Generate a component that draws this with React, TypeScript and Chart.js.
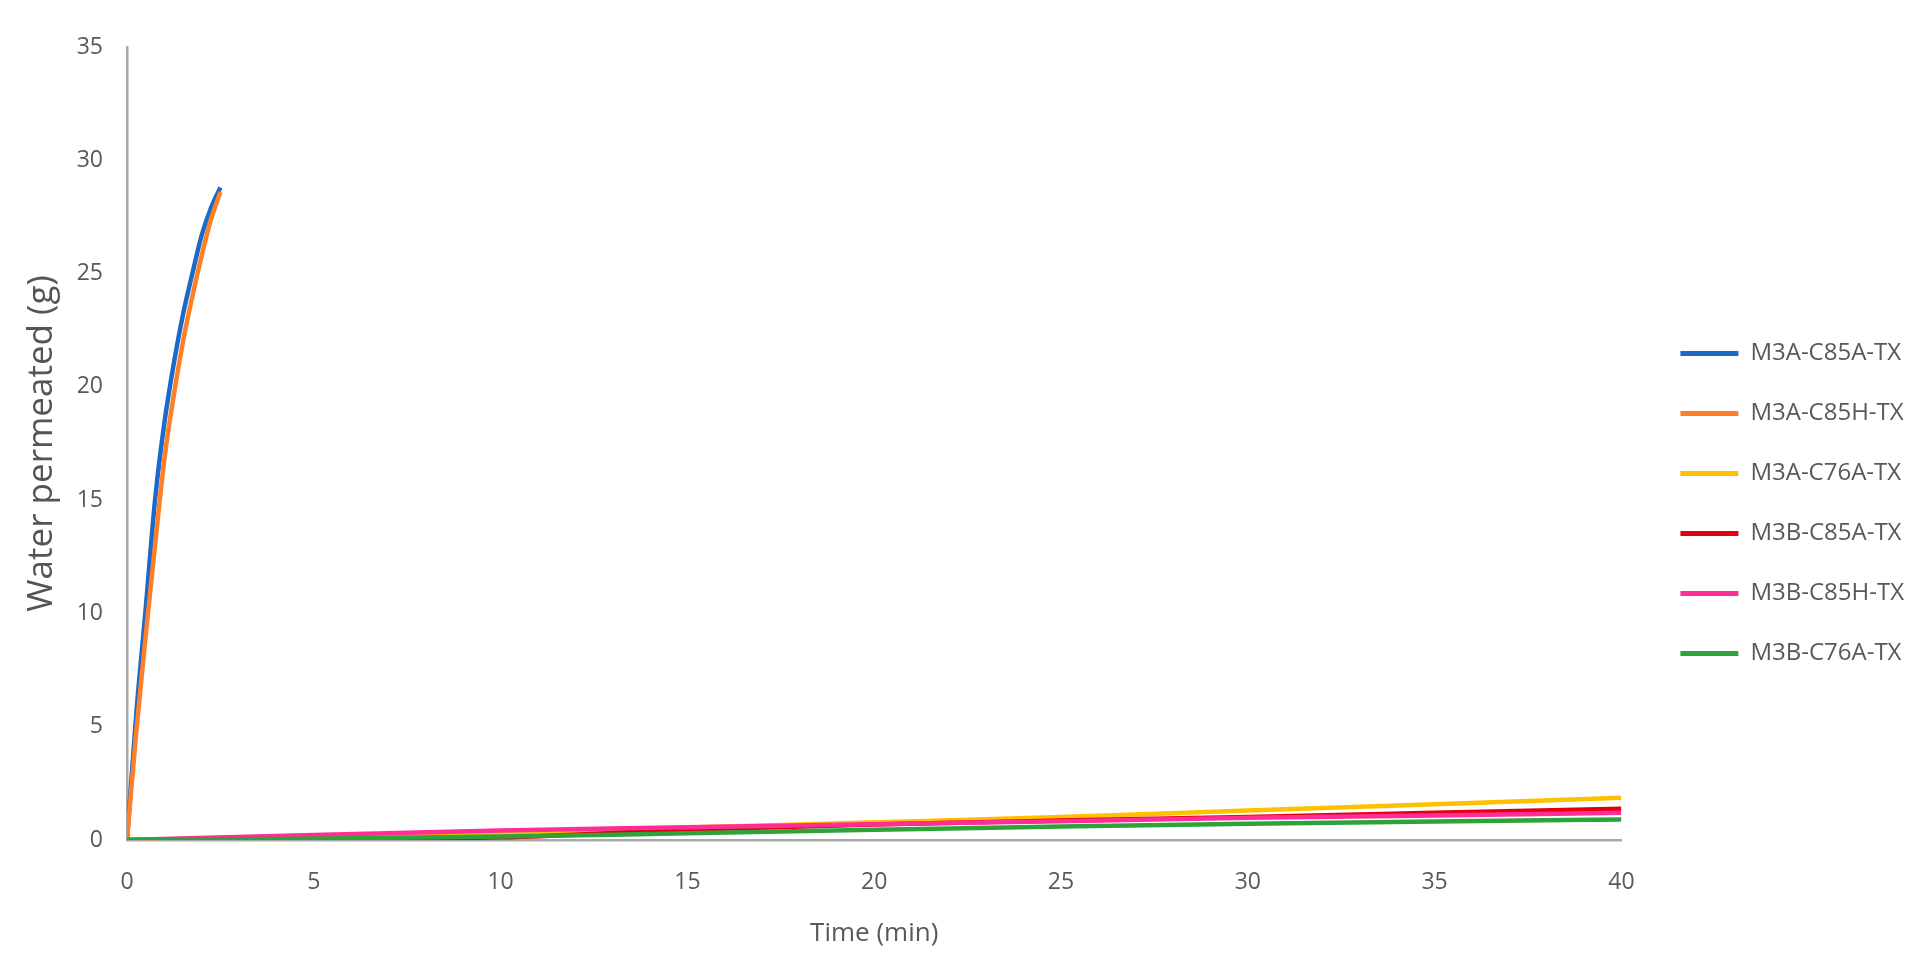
import React, { useEffect, useRef } from "react";
import { Chart, registerables } from "chart.js";

Chart.register(...registerables);

// Time axes (min)
const fastTime = [0, 0.25, 0.5, 0.75, 1, 1.25, 1.5, 1.75, 2, 2.25, 2.5];
const slowTime = [0, 5, 10, 15, 20, 25, 30, 35, 40];

// Water permeated (g)
const m3aC85a = [0, 5.6, 10.2, 15.0, 18.4, 21.0, 23.2, 25.0, 26.7, 27.9, 28.8];
const m3aC85h = [0, 4.8, 9.0, 13.0, 16.8, 19.6, 22.0, 24.0, 25.8, 27.4, 28.6];
const m3aC76a = [0, 0.12, 0.3, 0.55, 0.78, 1.02, 1.3, 1.58, 1.87];
const m3bC85a = [0, 0.05, 0.12, 0.45, 0.68, 0.86, 1.02, 1.2, 1.38];
const m3bC85h = [0, 0.22, 0.42, 0.56, 0.7, 0.83, 0.98, 1.08, 1.2];
const m3bC76a = [0, 0.06, 0.15, 0.3, 0.45, 0.6, 0.72, 0.82, 0.91];

const seriesNames = ["M3A-C85A-TX", "M3A-C85H-TX", "M3A-C76A-TX", "M3B-C85A-TX", "M3B-C85H-TX", "M3B-C76A-TX"];
const seriesColors = ["#1B6AC9", "#FF7F27", "#FFC000", "#E00010", "#FF2D96", "#2EA33A"];
const seriesValues = [m3aC85a, m3aC85h, m3aC76a, m3bC85a, m3bC85h, m3bC76a];
const seriesTimes = [fastTime, fastTime, slowTime, slowTime, slowTime, slowTime];

const xTitle = "Time (min)";
const yTitle = "Water permeated (g)";

const FONT = "'Open Sans', sans-serif";
const GREY = "#595959";

export default function App() {
  const ref = useRef<HTMLCanvasElement | null>(null);

  useEffect(() => {
    if (!ref.current) return;
    const datasets = seriesNames.map((name, i) => ({
      label: name,
      data: seriesTimes[i].map((t, k) => ({ x: t, y: seriesValues[i][k] })),
      borderColor: seriesColors[i],
      backgroundColor: seriesColors[i],
      borderWidth: 4.5,
      pointRadius: 0,
      fill: false,
      cubicInterpolationMode: "monotone" as const,
      order: seriesNames.length - i,
    }));

    const chart = new Chart(ref.current, {
      type: "line",
      data: { datasets },
      options: {
        animation: false,
        responsive: true,
        maintainAspectRatio: false,
        layout: { padding: { top: 47, bottom: 10, left: 0, right: 11 } },
        plugins: {
          tooltip: { enabled: false },
          legend: {
            position: "right",
            labels: {
              font: { family: FONT, size: 24 },
              color: GREY,
              boxWidth: 58,
              boxHeight: 5,
              padding: 36,
              sort: (a: any, b: any) => a.datasetIndex - b.datasetIndex,
              generateLabels: (chart: any) =>
                Chart.defaults.plugins.legend.labels
                  .generateLabels(chart)
                  .map((l: any) => ({ ...l, lineWidth: 0 })),
            },
          },
        },
        scales: {
          x: {
            type: "linear",
            min: 0,
            max: 40,
            afterFit: (s: any) => {
              s.height = 120;
            },
            ticks: {
              stepSize: 5,
              padding: 29,
              color: GREY,
              font: { family: FONT, size: 23 },
            },
            grid: { display: false, drawTicks: false },
            border: { display: true, color: "#A8A8A8", width: 2.5 },
            title: {
              display: true,
              text: xTitle,
              color: GREY,
              font: { family: FONT, size: 26 },
              padding: { top: 0, bottom: 11 },
            },
          },
          y: {
            type: "linear",
            min: 0,
            max: 35,
            afterFit: (s: any) => {
              s.width = 127;
            },
            ticks: {
              stepSize: 5,
              padding: 24,
              color: GREY,
              font: { family: FONT, size: 23 },
            },
            grid: { display: false, drawTicks: false },
            border: { display: true, color: "#A8A8A8", width: 2.5 },
            title: {
              display: true,
              text: yTitle,
              color: "#555555",
              font: { family: FONT, size: 35 },
              padding: { top: 21, bottom: 0 },
            },
          },
          gap: {
            type: "linear",
            position: "right",
            display: true,
            afterFit: (s: any) => {
              s.width = 23;
            },
            ticks: { display: false },
            grid: { display: false, drawTicks: false },
            border: { display: false },
          },
        },
      },
    });
    return () => chart.destroy();
  }, []);

  return (
    <div style={{ position: "fixed", left: 0, top: 0, width: 1925, height: 970, background: "#fff" }}>
      <canvas ref={ref} />
    </div>
  );
}
